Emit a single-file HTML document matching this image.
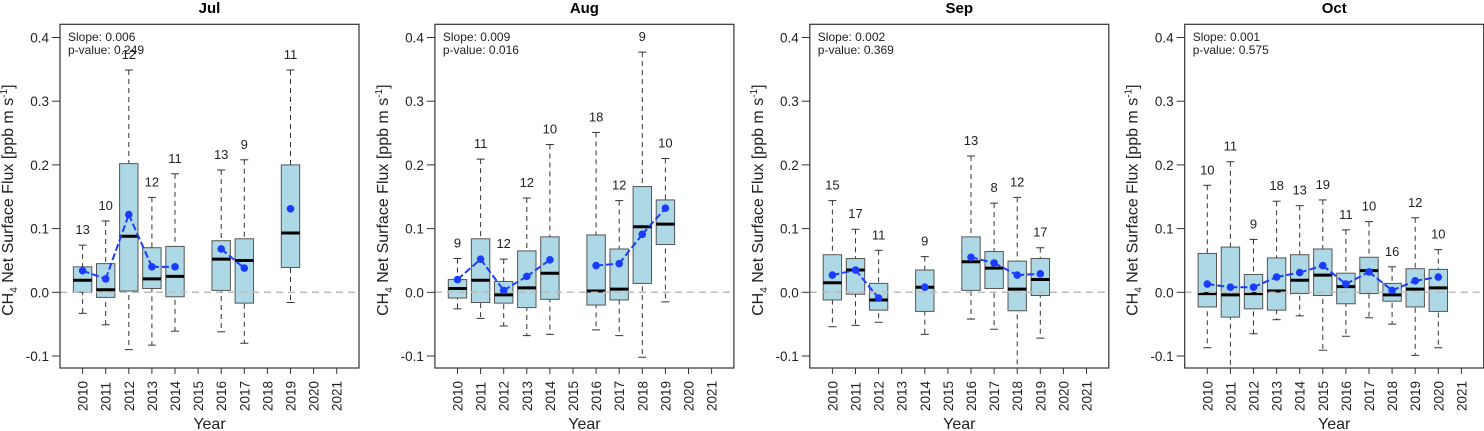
<!DOCTYPE html>
<html><head><meta charset="utf-8"><style>
html,body{margin:0;padding:0;background:#fff;}
svg{display:block;font-family:"Liberation Sans",Arial,sans-serif;}
</style></head><body>
<svg id="c" width="1484" height="431" viewBox="0 0 1484 431"></svg>
<script>
const years = [2010,2011,2012,2013,2014,2015,2016,2017,2018,2019,2020,2021];
const months = ["Jul","Aug","Sep","Oct"];
const slopes = ["0.006","0.009","0.002","0.001"];
const pvalues = ["0.249","0.016","0.369","0.575"];
const yTicks = [-0.1,0.0,0.1,0.2,0.3,0.4];
const yTickLabels = ["-0.1","0.0","0.1","0.2","0.3","0.4"];
// per month: [year, low, q1, median, q3, high, mean, n]
const julStats = [
 [2010,-0.033,0.0,0.019,0.040,0.074,0.034,13],
 [2011,-0.051,-0.008,0.004,0.045,0.112,0.021,10],
 [2012,-0.090,0.002,0.088,0.202,0.349,0.122,12],
 [2013,-0.083,0.006,0.021,0.070,0.149,0.040,12],
 [2014,-0.061,-0.007,0.025,0.072,0.186,0.040,11],
 [2016,-0.062,0.003,0.052,0.081,0.192,0.068,13],
 [2017,-0.080,-0.017,0.050,0.084,0.208,0.038,9],
 [2019,-0.016,0.039,0.093,0.200,0.349,0.131,11]];
const augStats = [
 [2010,-0.026,-0.009,0.006,0.020,0.053,0.020,9],
 [2011,-0.041,-0.016,0.019,0.084,0.209,0.052,11],
 [2012,-0.053,-0.017,-0.004,0.017,0.052,0.003,12],
 [2013,-0.068,-0.024,0.007,0.065,0.148,0.025,12],
 [2014,-0.066,-0.011,0.030,0.087,0.232,0.051,10],
 [2016,-0.059,-0.020,0.002,0.090,0.251,0.042,18],
 [2017,-0.068,-0.012,0.005,0.068,0.144,0.045,12],
 [2018,-0.102,0.014,0.103,0.166,0.377,0.091,9],
 [2019,-0.015,0.075,0.107,0.145,0.210,0.132,10]];
const sepStats = [
 [2010,-0.054,-0.012,0.015,0.059,0.144,0.027,15],
 [2011,-0.052,-0.003,0.035,0.053,0.099,0.035,17],
 [2012,-0.047,-0.028,-0.012,0.014,0.066,-0.009,11],
 [2014,-0.066,-0.030,0.008,0.035,0.056,0.008,9],
 [2016,-0.042,0.003,0.048,0.087,0.214,0.055,13],
 [2017,-0.058,0.006,0.038,0.064,0.140,0.046,8],
 [2018,-0.130,-0.029,0.005,0.049,0.149,0.027,12],
 [2019,-0.072,-0.005,0.020,0.053,0.070,0.029,17]];
const octStats = [
 [2010,-0.087,-0.023,-0.002,0.061,0.168,0.013,10],
 [2011,-0.130,-0.039,-0.004,0.071,0.205,0.008,11],
 [2012,-0.065,-0.026,-0.002,0.028,0.083,0.008,9],
 [2013,-0.043,-0.028,0.002,0.054,0.143,0.024,18],
 [2014,-0.037,-0.002,0.019,0.059,0.136,0.031,13],
 [2015,-0.091,-0.005,0.027,0.068,0.145,0.042,19],
 [2016,-0.069,-0.018,0.009,0.030,0.098,0.013,11],
 [2017,-0.040,-0.002,0.034,0.055,0.111,0.032,10],
 [2018,-0.050,-0.014,-0.004,0.014,0.040,0.003,16],
 [2019,-0.099,-0.023,0.005,0.037,0.117,0.018,12],
 [2020,-0.087,-0.030,0.007,0.036,0.067,0.024,10]];
const allStats = [julStats, augStats, sepStats, octStats];

const NS = "http://www.w3.org/2000/svg";
const svg = document.getElementById("c");
function mk(tag, attrs, parent, text){
  const e = document.createElementNS(NS, tag);
  for (const k in attrs) e.setAttribute(k, attrs[k]);
  if (text !== undefined) e.textContent = text;
  (parent||svg).appendChild(e);
  return e;
}
const TOP = 24.3, BOT = 368, W = 299;
function yScale(v){ return 292.3 - v*637; }

months.forEach((m, pi) => {
  const L = 60 + 374.9*pi;
  const xScale = yr => L + 22.6 + (yr - years[0]) * 23.1;
  const g = mk("g", {});
  
  
  const clipId = "clip" + pi;
  const cp = mk("clipPath", {id: clipId}, g);
  mk("rect", {x: L, y: TOP, width: W, height: BOT - TOP}, cp);

  const t = mk("text", {x: L + W/2, y: 13, "text-anchor": "middle", "font-size": 15, "font-weight": "bold", fill: "#000"}, g, m);
  
  

  yTicks.forEach((v, i) => {
    const y = yScale(v);
    mk("line", {x1: L - 8, x2: L, y1: y, y2: y, stroke: "#333", "stroke-width": 1}, g);
    const tl = mk("text", {x: L - 11, y: y + 5, "text-anchor": "end", "font-size": 13.5, fill: "#222"}, g, yTickLabels[i]);
    
    
  });
  const yt = mk("text", {transform: `translate(${L - 47},${(TOP+BOT)/2 + 4}) rotate(-90)`, "text-anchor": "middle", "font-size": 16, fill: "#222"}, g);
  
  
  mk("tspan", {}, yt, "CH");
  mk("tspan", {"font-size": 10, dy: 4}, yt, "4");
  mk("tspan", {dy: -4}, yt, " Net Surface Flux [ppb m s");
  mk("tspan", {"font-size": 10, dy: -6}, yt, "-1");
  mk("tspan", {dy: 6}, yt, "]");

  years.forEach(yr => {
    const x = xScale(yr);
    mk("line", {x1: x, x2: x, y1: BOT, y2: BOT + 6, stroke: "#333", "stroke-width": 1}, g);
    const xl = mk("text", {transform: `translate(${x + 5},${BOT + 43}) rotate(-90)`, "font-size": 13.5, fill: "#222"}, g, String(yr));
    
    
  });
  const xt = mk("text", {x: L + W/2, y: 429, "text-anchor": "middle", "font-size": 16, fill: "#222"}, g, "Year");
  
  

  const inner = mk("g", {"clip-path": `url(#${clipId})`}, g);
  const stats = allStats[pi];
  stats.forEach(s => {
    const [yr, lo, q1, med, q3, hi, mean, n] = s;
    const x = xScale(yr);
    const bg = mk("g", {}, inner);
    
    
    mk("line", {x1: x, x2: x, y1: yScale(hi), y2: yScale(lo), stroke: "#333", "stroke-width": 1, "stroke-dasharray": "5,4"}, bg);
    mk("line", {x1: x - 4, x2: x + 4, y1: yScale(hi), y2: yScale(hi), stroke: "#333", "stroke-width": 1}, bg);
    mk("line", {x1: x - 4, x2: x + 4, y1: yScale(lo), y2: yScale(lo), stroke: "#333", "stroke-width": 1}, bg);
    mk("rect", {x: x - 9.2, y: yScale(q3), width: 18.4, height: yScale(q1) - yScale(q3), fill: "#add8e6", stroke: "#555", "stroke-width": 1}, bg);
    mk("line", {x1: x - 9.2, x2: x + 9.2, y1: yScale(med), y2: yScale(med), stroke: "#000", "stroke-width": 3}, bg);
    const nl = mk("text", {x: x, y: yScale(hi) - 11, "text-anchor": "middle", "font-size": 13, fill: "#222"}, g, String(n));
    
    
  });
  const z = mk("line", {x1: L, x2: L + W, y1: yScale(0), y2: yScale(0), stroke: "#bbb", "stroke-width": 1.5, "stroke-dasharray": "7,5"}, inner);
  
  

  for (let i = 1; i < stats.length; i++) {
    if (stats[i][0] - stats[i-1][0] === 1) {
      const seg = mk("line", {x1: xScale(stats[i-1][0]), y1: yScale(stats[i-1][6]), x2: xScale(stats[i][0]), y2: yScale(stats[i][6]), stroke: "#1a3cff", "stroke-width": 2, "stroke-dasharray": "7,3"}, inner);
      
      
    }
  }
  stats.forEach(s => {
    const p = mk("circle", {cx: xScale(s[0]), cy: yScale(s[6]), r: 3.8, fill: "#1a3cff"}, inner);
    
    
  });

  const frame = mk("rect", {x: L, y: TOP, width: W, height: BOT - TOP, fill: "none", stroke: "#333", "stroke-width": 1.2}, g);
  
  

  const s1 = mk("text", {x: L + 8, y: 41, "font-size": 12, fill: "#222"}, g, "Slope: " + slopes[pi]);
  
  
  const s2 = mk("text", {x: L + 8, y: 54, "font-size": 12, fill: "#222"}, g, "p-value: " + pvalues[pi]);
  
  
});
</script>
</body></html>
